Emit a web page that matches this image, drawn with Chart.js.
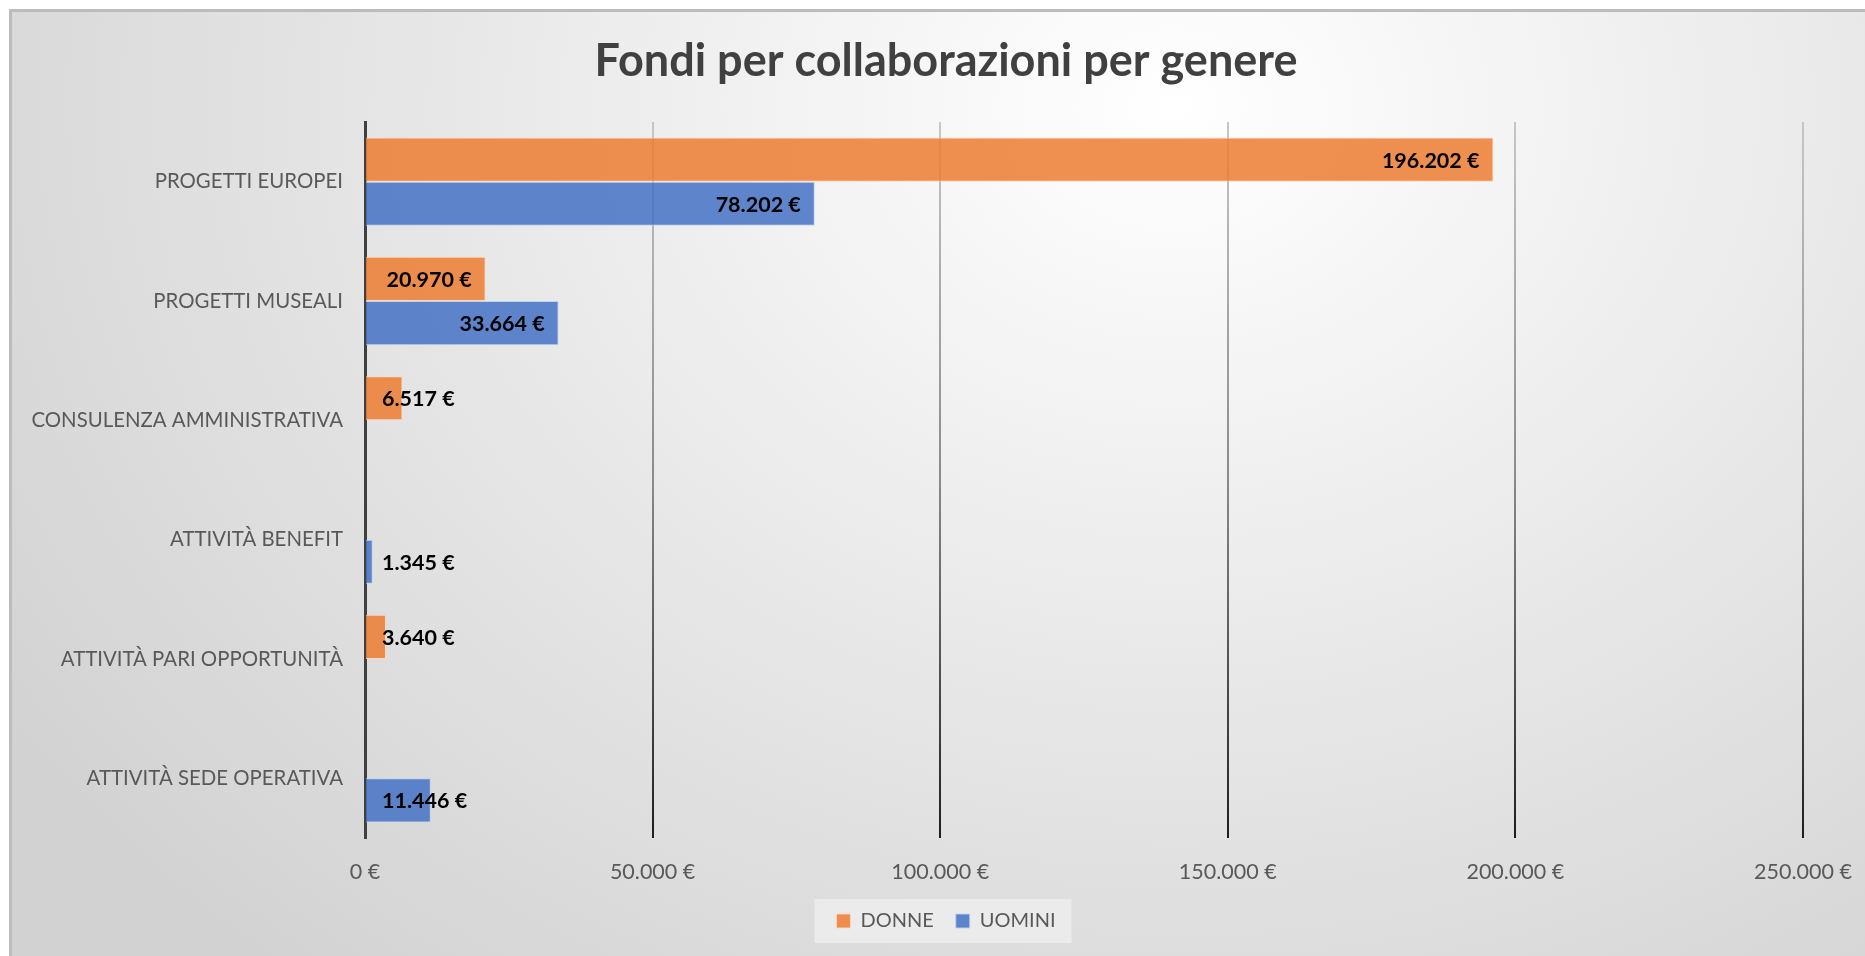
<!DOCTYPE html>
<html lang="it">
<head>
    <meta charset="UTF-8">
    <title>Fondi per collaborazioni per genere</title>
    <script src="https://cdn.jsdelivr.net/npm/chart.js"></script>
    <style>
        html, body { margin: 0; padding: 0; background: #ffffff; overflow: hidden; }
        #frame {
            position: absolute; left: 9px; top: 9px;
            width: 1874px; height: 947px;
            border-left: 3px solid #bcbcbc; border-top: 3px solid #bcbcbc;
            background: radial-gradient(ellipse 75% 120% at 62% 10%, #ffffff 0%, #f5f5f5 22%, #e6e6e6 55%, #d2d2d2 100%);
        }
        #fondiChart { display: block; }
    </style>
</head>
<body>
    <div id="frame">
        <canvas id="fondiChart" width="1874" height="947"></canvas>
    </div>

    <script>
        // dati
        const categorie = ['PROGETTI EUROPEI', 'PROGETTI MUSEALI', 'CONSULENZA AMMINISTRATIVA',
            'ATTIVITÀ BENEFIT', 'ATTIVITÀ PARI OPPORTUNITÀ', 'ATTIVITÀ SEDE OPERATIVA'];
        const donne = [196202, 20970, 6517, null, 3640, null];
        const uomini = [78202, 33664, null, 1345, null, 11446];
        const tickValori = [0, 50000, 100000, 150000, 200000, 250000];

        function euro(v) {
            return String(Math.round(v)).replace(/\B(?=(\d{3})+(?!\d))/g, '.') + ' €';
        }

        // gridlines verticali sfumate (chiare in alto, scure in basso)
        function gridColor(ctx) {
            const chart = ctx.chart;
            const area = chart.chartArea;
            if (!area) return '#a0a0a0';
            const g = chart.ctx.createLinearGradient(0, area.top, 0, area.bottom);
            g.addColorStop(0, '#c6c6c6');
            g.addColorStop(0.5, '#8a8a8a');
            g.addColorStop(1, '#1e1e1e');
            return g;
        }

        // sfondo dietro la legenda
        const legendBox = {
            id: 'legendBox',
            beforeDraw(chart) {
                const boxes = chart.legend && chart.legend.legendHitBoxes;
                if (!boxes || !boxes.length) return;
                let x1 = Infinity, x2 = -Infinity, y1 = Infinity, y2 = -Infinity;
                boxes.forEach(b => {
                    x1 = Math.min(x1, b.left); x2 = Math.max(x2, b.left + b.width);
                    y1 = Math.min(y1, b.top); y2 = Math.max(y2, b.top + b.height);
                });
                const c = chart.ctx;
                c.save();
                c.fillStyle = 'rgba(236,236,236,0.9)';
                c.fillRect(x1 - 22, y1 - 12, x2 - x1 + 38, y2 - y1 + 24);
                c.restore();
            }
        };

        // etichette dei valori (interno fine, spostate a destra se non entrano)
        const valueLabels = {
            id: 'valueLabels',
            afterDatasetsDraw(chart) {
                const c = chart.ctx;
                c.save();
                c.font = 'bold 21.5px Lato, "Open Sans", sans-serif';
                c.fillStyle = '#000000';
                c.textBaseline = 'middle';
                c.textAlign = 'left';
                chart.data.datasets.forEach((ds, i) => {
                    const meta = chart.getDatasetMeta(i);
                    meta.data.forEach((bar, j) => {
                        const v = ds.data[j];
                        if (v === null || v === undefined) return;
                        const txt = euro(v);
                        const w = c.measureText(txt).width;
                        const x = Math.max(bar.x - 14 - w, bar.base + 16);
                        c.fillText(txt, x, bar.y + 1);
                    });
                });
                c.restore();
            }
        };

        const ctx = document.getElementById('fondiChart').getContext('2d');
        const chart = new Chart(ctx, {
            type: 'bar',
            data: {
                labels: categorie,
                datasets: [{
                    label: 'DONNE',
                    data: donne,
                    backgroundColor: 'rgba(237,125,49,0.85)',
                    borderColor: 'rgba(255,214,186,0.9)',
                    borderWidth: 1
                }, {
                    label: 'UOMINI',
                    data: uomini,
                    backgroundColor: 'rgba(68,114,196,0.85)',
                    borderColor: 'rgba(190,208,240,0.9)',
                    borderWidth: 1
                }]
            },
            options: {
                indexAxis: 'y',
                responsive: false,
                animation: false,
                layout: { padding: { left: 0, right: 6, top: 0, bottom: 18 } },
                categoryPercentage: 0.74,
                barPercentage: 1.0,
                scales: {
                    x: {
                        min: 0,
                        // l'area del grafico continua oltre l'ultima griglia (250.000 €)
                        max: 263400,
                        afterBuildTicks(scale) {
                            scale.ticks = tickValori.map(v => ({ value: v }));
                        },
                        afterFit(scale) { scale.height = 51; },
                        grid: { color: gridColor, lineWidth: 2, drawTicks: false },
                        border: { display: false },
                        ticks: {
                            padding: 21,
                            color: '#595959',
                            font: { family: 'Lato, "Open Sans", sans-serif', size: 21.5 },
                            callback: v => euro(v)
                        }
                    },
                    y: {
                        afterFit(scale) { scale.width = 353; },
                        grid: { display: false, drawTicks: false },
                        border: { display: true, color: '#404040', width: 3 },
                        ticks: {
                            padding: 22,
                            color: '#595959',
                            font: { family: 'Lato, "Open Sans", sans-serif', size: 20.4 }
                        }
                    }
                },
                plugins: {
                    title: {
                        display: true,
                        text: 'Fondi per collaborazioni per genere',
                        color: '#404040',
                        font: { family: 'Lato, "Open Sans", sans-serif', size: 45, weight: 'bold' },
                        padding: { top: 22, bottom: 34 }
                    },
                    legend: {
                        position: 'bottom',
                        labels: {
                            color: '#595959',
                            font: { family: 'Lato, "Open Sans", sans-serif', size: 20 },
                            boxWidth: 14,
                            boxHeight: 14,
                            padding: 22
                        }
                    },
                    tooltip: { enabled: false }
                }
            },
            plugins: [legendBox, valueLabels]
        });
    </script>
</body>
</html>
